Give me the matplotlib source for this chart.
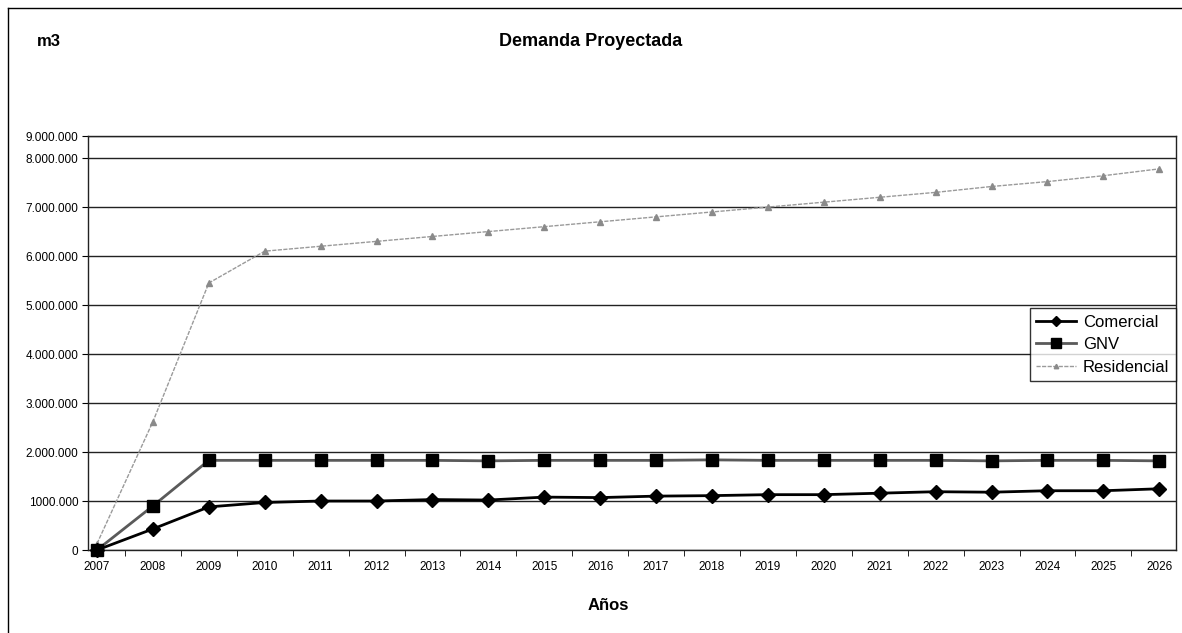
import matplotlib
matplotlib.use("Agg")
import matplotlib.pyplot as plt
from matplotlib.lines import Line2D

plt.rcParams["font.family"] = ["Liberation Sans", "DejaVu Sans"]

years = [str(y) for y in range(2007, 2027)]

comercial = [0, 430000, 880000, 970000, 1000000, 1000000, 1030000, 1020000,
             1080000, 1070000, 1100000, 1110000, 1130000, 1130000, 1160000,
             1190000, 1180000, 1210000, 1210000, 1250000]
gnv = [0, 900000, 1830000, 1830000, 1830000, 1830000, 1830000, 1820000,
       1830000, 1830000, 1830000, 1840000, 1830000, 1830000, 1830000,
       1830000, 1820000, 1830000, 1830000, 1820000]
residencial = [130000, 2620000, 5450000, 6100000, 6200000, 6300000, 6400000,
               6500000, 6600000, 6700000, 6800000, 6900000, 7000000, 7100000,
               7200000, 7300000, 7420000, 7520000, 7640000, 7780000]

ytick_vals = [0, 1000000, 2000000, 3000000, 4000000, 5000000, 6000000,
              7000000, 8000000, 8450000]
ytick_labels = ["0", "1000.000", "2.000.000", "3.000.000", "4.000.000",
                "5.000.000", "6.000.000", "7.000.000", "8.000.000", "9.000.000"]


def main() -> None:
    fig = plt.figure(figsize=(11.82, 6.33), dpi=100)
    ax = fig.add_axes([0.0745, 0.1311, 0.9205, 0.654])

    x = list(range(len(years)))

    ax.plot(x, residencial, color="#9a9a9a", lw=1.0, ls=(0, (3, 1)),
            marker="^", ms=4, mfc="#8a8a8a", mec="#8a8a8a", clip_on=False,
            label="Residencial", zorder=3)
    ax.plot(x, gnv, color="#5a5a5a", lw=2.0, marker="s", ms=9, mfc="black",
            mec="black", clip_on=False, label="GNV", zorder=4)
    ax.plot(x, comercial, color="black", lw=2.0, marker="D", ms=7,
            mfc="black", mec="black", clip_on=False, label="Comercial", zorder=5)

    ax.set_yticks(ytick_vals)
    ax.set_yticklabels(ytick_labels, fontsize=8.5)
    ax.set_xticks(x)
    ax.set_xticklabels(years, fontsize=8.5)
    ax.tick_params(axis="x", length=0, pad=8)
    ax.set_xticks([i + 0.5 for i in range(0, len(years) - 1)], minor=True)
    ax.tick_params(axis="x", which="minor", length=4, direction="out")
    ax.tick_params(axis="y", length=4, direction="out", pad=3)
    ax.set_xlim(-0.16, 19.3)
    ax.set_ylim(0, 8450000)

    ax.grid(axis="y", color="#222222", lw=1.0)
    ax.set_axisbelow(True)
    for s in ax.spines.values():
        s.set_color("#222222")
        s.set_linewidth(1.0)

    handles, labels = ax.get_legend_handles_labels()
    order = [2, 1, 0]
    leg = ax.legend([handles[i] for i in order], [labels[i] for i in order],
                    loc="upper right", bbox_to_anchor=(1.0, 0.585),
                    fontsize=12, frameon=True, fancybox=False,
                    handlelength=2.4, borderpad=0.4, labelspacing=0.45,
                    borderaxespad=0.0, handletextpad=0.4, markerscale=0.8)
    leg.get_frame().set_edgecolor("black")
    leg.get_frame().set_linewidth(1.0)

    fig.text(591 / 1182, 1 - 42 / 633, "Demanda Proyectada", ha="center",
             va="center", fontsize=13, fontweight="bold")
    fig.text(37 / 1182, 1 - 42 / 633, "m3", ha="left", va="center",
             fontsize=12, fontweight="bold")
    fig.text(608 / 1182, 1 - 605 / 633, "Años", ha="center", va="center",
             fontsize=12, fontweight="bold")

    # outer frame lines of the scanned figure
    fig.add_artist(Line2D([8 / 1182, 8 / 1182], [0, 1 - 8 / 633],
                          color="black", lw=1.0))
    fig.add_artist(Line2D([8 / 1182, 1], [1 - 8 / 633, 1 - 8 / 633],
                          color="black", lw=1.0))

    fig.savefig("out.png", dpi=100)


if __name__ == "__main__":
    main()
